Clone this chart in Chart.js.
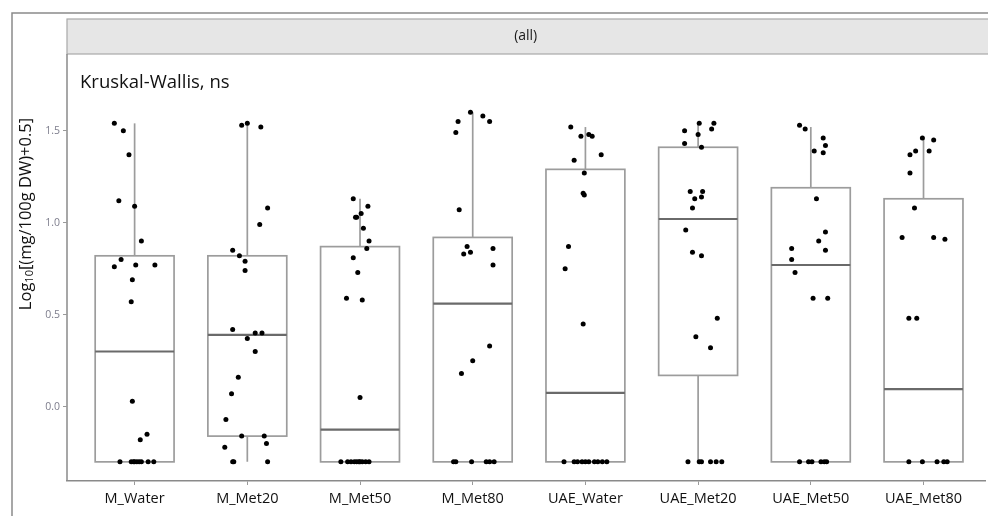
<!DOCTYPE html>
<html lang="en">
<head>
  <meta charset="UTF-8">
  <title>Kruskal-Wallis boxplot</title>
  <script src="https://cdn.jsdelivr.net/npm/chart.js"></script>
  <style>
    html,body{margin:0;padding:0;background:#fff;}
    #wrap{width:988px;height:516px;overflow:hidden;}
  </style>
</head>
<body>
  <div id="wrap"><canvas id="box" width="988" height="516"></canvas></div>

  <script>
    /* ——— DATA ——— */
    const groups = ['M_Water','M_Met20','M_Met50','M_Met80','UAE_Water','UAE_Met20','UAE_Met50','UAE_Met80'];
    const yTicks = [0, 0.5, 1.0, 1.5];

    // box stats
    const whiskLow  = [-0.30, -0.30, -0.30, -0.30, -0.30, -0.30, -0.30, -0.30];
    const q1        = [-0.30, -0.16, -0.30, -0.30, -0.30,  0.17, -0.30, -0.30];
    const median    = [ 0.30,  0.39, -0.125, 0.56,  0.075, 1.02,  0.77,  0.095];
    const q3        = [ 0.82,  0.82,  0.87,  0.92,  1.29,  1.41,  1.19,  1.13];
    const whiskHigh = [ 1.54,  1.54,  1.13,  1.60,  1.52,  1.54,  1.52,  1.46];

    // jittered observations: value and horizontal jitter (category units)
    const obsY = [
      [1.54,1.50,1.37,1.12,1.09,0.90,0.80,0.76,0.77,0.77,0.69,0.57,0.03,-0.15,-0.18,-0.30,-0.30,-0.30,-0.30,-0.30,-0.30,-0.30,-0.30,-0.30],
      [1.53,1.54,1.52,1.08,0.99,0.85,0.82,0.79,0.74,0.42,0.40,0.40,0.37,0.30,0.16,0.07,-0.07,-0.16,-0.16,-0.20,-0.22,-0.30,-0.30,-0.30],
      [1.13,1.09,1.05,1.03,1.03,0.97,0.90,0.86,0.81,0.73,0.59,0.58,0.05,-0.30,-0.30,-0.30,-0.30,-0.30,-0.30,-0.30,-0.30,-0.30,-0.30],
      [1.60,1.58,1.55,1.55,1.49,1.07,0.87,0.83,0.84,0.86,0.77,0.33,0.25,0.18,-0.30,-0.30,-0.30,-0.30,-0.30,-0.30],
      [1.52,1.47,1.48,1.47,1.34,1.37,1.27,1.16,1.15,0.87,0.75,0.45,-0.30,-0.30,-0.30,-0.30,-0.30,-0.30,-0.30,-0.30,-0.30,-0.30],
      [1.54,1.54,1.51,1.50,1.48,1.43,1.41,1.17,1.17,1.13,1.14,1.08,0.96,0.84,0.82,0.48,0.38,0.32,-0.30,-0.30,-0.30,-0.30,-0.30,-0.30],
      [1.53,1.51,1.46,1.42,1.39,1.38,1.13,0.95,0.90,0.86,0.85,0.80,0.73,0.59,0.59,-0.30,-0.30,-0.30,-0.30,-0.30,-0.30],
      [1.46,1.45,1.39,1.37,1.39,1.27,1.08,0.92,0.92,0.91,0.48,0.48,-0.30,-0.30,-0.30,-0.30,-0.30]
    ];
    const obsJitter = [
      [-0.18,-0.10,-0.05,-0.14,0.00,0.06,-0.12,-0.18,0.01,0.18,-0.02,-0.03,-0.02,0.11,0.05,-0.13,-0.03,-0.01,0.00,0.02,0.04,0.06,0.12,0.17],
      [-0.05,0.00,0.12,0.18,0.11,-0.13,-0.07,-0.02,-0.02,-0.13,0.07,0.13,0.00,0.07,-0.08,-0.14,-0.19,-0.05,0.15,0.17,-0.20,-0.13,-0.12,0.18],
      [-0.06,0.07,0.01,-0.04,-0.03,0.03,0.08,0.06,-0.06,-0.02,-0.12,0.02,0.00,-0.17,-0.11,-0.08,-0.05,-0.03,-0.01,0.00,0.02,0.05,0.08],
      [-0.02,0.09,0.15,-0.13,-0.15,-0.12,-0.05,-0.08,-0.02,0.18,0.18,0.15,0.00,-0.10,-0.17,-0.15,-0.01,0.12,0.15,0.19],
      [-0.13,-0.04,0.03,0.06,-0.10,0.14,-0.01,-0.02,-0.01,-0.15,-0.18,-0.02,-0.19,-0.10,-0.07,-0.03,0.00,0.03,0.08,0.11,0.15,0.19],
      [0.01,0.14,0.12,-0.12,0.00,-0.12,0.03,-0.07,0.04,-0.03,0.03,-0.05,-0.11,-0.05,0.03,0.17,-0.02,0.11,-0.09,0.01,0.03,0.11,0.16,0.21],
      [-0.10,-0.05,0.11,0.13,0.03,0.11,0.05,0.13,0.07,-0.17,0.13,-0.17,-0.14,0.02,0.15,-0.10,-0.02,0.01,0.09,0.12,0.14],
      [-0.01,0.09,-0.07,-0.12,0.05,-0.12,-0.08,-0.19,0.09,0.19,-0.13,-0.06,-0.13,-0.01,0.12,0.18,0.21]
    ];

    const FONT = "'Open Sans', 'DejaVu Sans', sans-serif";
    const BOX_W = 0.70;

    const points = [];
    obsY.forEach((vals,i)=>vals.forEach((v,k)=>points.push({x:i+obsJitter[i][k], y:v})));

    /* ——— BOXES + DECORATION ——— */
    const boxPlugin = {
      id:'boxes',
      beforeDraw(chart){
        const c=chart.ctx, a=chart.chartArea, x=chart.scales.x;
        c.save();
        c.fillStyle='#fff'; c.fillRect(0,0,chart.width,chart.height);
        // outer frame of the figure
        c.strokeStyle='#8a8a8a'; c.lineWidth=1.5;
        c.beginPath(); c.moveTo(12,chart.height); c.lineTo(12,13); c.lineTo(chart.width,13); c.stroke();
        // facet strip
        c.fillStyle='#e6e6e6'; c.fillRect(a.left,19,chart.width-a.left+5,a.top-19);
        c.strokeStyle='#a8a8a8'; c.lineWidth=1.2;
        c.strokeRect(a.left,19,chart.width-a.left+5,a.top-19);
        c.fillStyle='#1a1a1a'; c.font='14px '+FONT; c.textAlign='center'; c.textBaseline='middle';
        c.fillText('(all)', x.getPixelForValue(3.47), (19+a.top)/2);
        // panel left border
        c.strokeStyle='#8a8a8a'; c.lineWidth=1.5;
        c.beginPath(); c.moveTo(a.left,a.top); c.lineTo(a.left,a.bottom); c.stroke();
        // y title with subscript
        c.translate(26,214); c.rotate(-Math.PI/2);
        c.fillStyle='#111'; c.textAlign='left'; c.textBaseline='middle';
        const big='16.5px '+FONT, small='11px '+FONT;
        c.font=big; const w1=c.measureText('Log').width, w3=c.measureText('[(mg/100g DW)+0.5]').width;
        c.font=small; const w2=c.measureText('10').width;
        let s=-(w1+w2+w3)/2;
        c.font=big; c.fillText('Log',s,0); s+=w1;
        c.font=small; c.fillText('10',s,4); s+=w2;
        c.font=big; c.fillText('[(mg/100g DW)+0.5]',s,0);
        c.restore();
      },
      beforeDatasetsDraw(chart){
        const c=chart.ctx, x=chart.scales.x, y=chart.scales.y;
        c.save();
        groups.forEach((g,i)=>{
          const cx=x.getPixelForValue(i);
          const hw=x.getPixelForValue(i+BOX_W/2)-cx;
          const yl=y.getPixelForValue(whiskLow[i]), y1=y.getPixelForValue(q1[i]);
          const ym=y.getPixelForValue(median[i]), y3=y.getPixelForValue(q3[i]);
          const yh=y.getPixelForValue(whiskHigh[i]);
          c.strokeStyle='#9c9c9c'; c.lineWidth=1.7;
          c.beginPath();
          c.moveTo(cx,y3); c.lineTo(cx,yh);
          c.moveTo(cx,y1); c.lineTo(cx,yl);
          c.stroke();
          c.strokeRect(cx-hw,y3,hw*2,y1-y3);
          c.strokeStyle='#6a6a6a'; c.lineWidth=2.2;
          c.beginPath(); c.moveTo(cx-hw,ym); c.lineTo(cx+hw,ym); c.stroke();
        });
        // test label
        c.fillStyle='#111'; c.font='18.5px '+FONT; c.textAlign='left'; c.textBaseline='middle';
        c.fillText('Kruskal-Wallis, ns', 80, 83);
        c.restore();
      }
    };

    /* ——— CHART ——— */
    new Chart(document.getElementById('box'),{
      type:'scatter',
      data:{datasets:[{
        data:points,
        pointRadius:2.5,
        pointHoverRadius:2.5,
        pointBackgroundColor:'#000',
        pointBorderWidth:0
      }]},
      options:{
        responsive:false,
        animation:false,
        layout:{padding:{top:54,right:0,bottom:0,left:0}},
        plugins:{legend:{display:false},tooltip:{enabled:false}},
        scales:{
          x:{
            type:'linear', min:-0.6, max:7.55,
            afterBuildTicks:s=>{s.ticks=groups.map((g,i)=>({value:i}));},
            afterFit:s=>{s.height=35;},
            border:{color:'#8a8a8a',width:1.5},
            grid:{display:true,drawOnChartArea:false,color:'#9a9a9a',tickLength:4},
            ticks:{callback:(v,i)=>groups[i],autoSkip:false,maxRotation:0,padding:5,color:'#111',font:{family:FONT,size:14.5}}
          },
          y:{
            min:-0.404, max:1.917,
            afterBuildTicks:s=>{s.ticks=yTicks.map(v=>({value:v}));},
            afterFit:s=>{s.width=67;},
            border:{display:false},
            grid:{display:true,drawOnChartArea:false,color:'#9a9a9a',tickLength:4},
            ticks:{callback:v=>v.toFixed(1),padding:3,color:'#7d7d8c',font:{family:FONT,size:10.5}}
          }
        }
      },
      plugins:[boxPlugin]
    });
  </script>
</body>
</html>
